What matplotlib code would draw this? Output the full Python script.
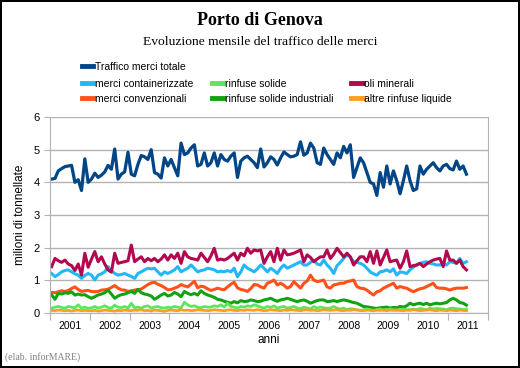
import numpy as np
import matplotlib
matplotlib.use("Agg")
import matplotlib.pyplot as plt

# monthly values, Jan 2001 - Jun 2011 (millions of tonnes)
totale = [
    4.10, 4.12, 4.35, 4.42, 4.48, 4.50, 4.52, 4.00, 4.08, 3.75, 4.72, 4.00,
    4.10, 4.28, 4.15, 4.22, 4.32, 4.52, 4.40, 5.02, 4.10, 4.25, 4.32, 4.92,
    4.25, 4.20, 4.55, 4.82, 4.78, 4.70, 5.00, 4.30, 4.25, 4.13, 4.75, 4.50,
    4.70, 4.45, 4.20, 5.20, 4.85, 4.90, 5.05, 5.15, 4.50, 4.55, 4.90, 4.50,
    4.60, 4.90, 4.50, 4.85, 4.70, 4.65, 4.80, 4.90, 4.15, 4.65, 4.75, 4.80,
    4.70, 4.60, 4.45, 5.02, 4.47, 4.60, 4.78, 4.70, 4.53, 4.75, 4.93, 4.85,
    4.78, 4.80, 4.85, 5.24, 4.83, 4.90, 5.20, 5.05, 4.60, 4.55, 5.05, 4.85,
    4.70, 4.55, 4.90, 4.75, 5.10, 4.90, 5.15, 4.15, 4.45, 4.75, 4.60, 4.30,
    4.00, 3.95, 3.60, 4.30, 3.85, 4.50, 3.95, 4.35, 4.05, 3.65, 4.05, 4.50,
    4.05, 3.75, 3.80, 4.50, 4.25, 4.40, 4.50, 4.60, 4.45, 4.35, 4.50, 4.55,
    4.42, 4.38, 4.65, 4.40, 4.50, 4.25,
]
container = [
    1.21, 1.11, 1.18, 1.26, 1.30, 1.32, 1.26, 1.20, 1.16, 1.06, 1.15, 1.21,
    1.16, 1.01, 1.16, 1.20, 1.26, 1.42, 1.30, 1.21, 1.16, 1.18, 1.21, 1.16,
    1.12, 1.06, 1.21, 1.26, 1.32, 1.37, 1.35, 1.37, 1.26, 1.16, 1.26, 1.21,
    1.26, 1.32, 1.42, 1.26, 1.32, 1.37, 1.47, 1.37, 1.26, 1.30, 1.32, 1.37,
    1.35, 1.32, 1.26, 1.28, 1.26, 1.30, 1.26, 1.37, 1.11, 1.26, 1.47, 1.37,
    1.32, 1.26, 1.35, 1.47, 1.37, 1.26, 1.37, 1.30, 1.21, 1.37, 1.47, 1.37,
    1.42, 1.47, 1.52, 1.57, 1.47, 1.47, 1.55, 1.62, 1.50, 1.47, 1.62, 1.47,
    1.37, 1.21, 1.45, 1.55, 1.67, 1.78, 1.72, 1.57, 1.55, 1.52, 1.47, 1.37,
    1.26, 1.20, 1.16, 1.26, 1.28, 1.32, 1.26, 1.35, 1.16, 1.26, 1.24, 1.21,
    1.32, 1.40, 1.47, 1.52, 1.55, 1.57, 1.52, 1.50, 1.47, 1.47, 1.52, 1.47,
    1.57, 1.55, 1.52, 1.67, 1.52, 1.57,
]
convenzionali = [
    0.63, 0.62, 0.65, 0.68, 0.66, 0.69, 0.75, 0.80, 0.72, 0.66, 0.68, 0.69,
    0.66, 0.65, 0.66, 0.70, 0.71, 0.73, 0.78, 0.84, 0.76, 0.71, 0.70, 0.66,
    0.68, 0.70, 0.72, 0.73, 0.80, 0.87, 0.92, 0.94, 0.88, 0.84, 0.78, 0.71,
    0.72, 0.76, 0.80, 0.87, 0.83, 0.80, 0.88, 0.97, 0.77, 0.82, 0.80, 0.74,
    0.69, 0.72, 0.76, 0.73, 0.71, 0.80, 0.88, 0.94, 0.77, 0.72, 0.70, 0.66,
    0.75, 0.87, 0.86, 0.80, 0.76, 0.91, 0.95, 1.01, 0.86, 0.91, 0.85, 0.76,
    0.81, 0.96, 0.86, 0.76, 0.91, 0.98, 1.16, 1.01, 0.96, 0.98, 1.01, 0.80,
    0.76, 0.86, 0.88, 0.91, 0.91, 0.96, 0.98, 1.01, 0.81, 0.76, 0.75, 0.70,
    0.62, 0.55, 0.65, 0.68, 0.76, 0.81, 0.86, 0.91, 0.76, 0.81, 0.78, 0.76,
    0.70, 0.65, 0.70, 0.74, 0.76, 0.81, 0.86, 0.91, 0.78, 0.76, 0.76, 0.74,
    0.70, 0.74, 0.76, 0.76, 0.76, 0.78,
]
rinfuse_solide = [
    0.15, 0.18, 0.20, 0.17, 0.15, 0.20, 0.18, 0.16, 0.25, 0.15, 0.18, 0.14,
    0.16, 0.20, 0.15, 0.18, 0.22, 0.17, 0.15, 0.24, 0.18, 0.16, 0.20, 0.15,
    0.30, 0.16, 0.18, 0.15, 0.20, 0.22, 0.15, 0.18, 0.20, 0.16, 0.15, 0.18,
    0.16, 0.20, 0.18, 0.15, 0.33, 0.25, 0.20, 0.22, 0.18, 0.16, 0.20, 0.18,
    0.18, 0.22, 0.20, 0.25, 0.18, 0.30, 0.20, 0.18, 0.15, 0.20, 0.18, 0.22,
    0.20, 0.25, 0.22, 0.18, 0.15, 0.20, 0.17, 0.22, 0.15, 0.18, 0.20, 0.15,
    0.17, 0.20, 0.15, 0.13, 0.18, 0.15, 0.12, 0.20, 0.15, 0.18, 0.16, 0.14,
    0.15, 0.20, 0.15, 0.12, 0.15, 0.10, 0.13, 0.12, 0.10, 0.08, 0.10, 0.12,
    0.10, 0.08, 0.10, 0.12, 0.08, 0.10, 0.12, 0.10, 0.08, 0.10, 0.12, 0.10,
    0.10, 0.12, 0.10, 0.14, 0.12, 0.10, 0.15, 0.12, 0.14, 0.13, 0.12, 0.10,
    0.14, 0.15, 0.13, 0.12, 0.10, 0.12,
]
industriali = [
    0.55, 0.42, 0.60, 0.58, 0.62, 0.60, 0.65, 0.55, 0.58, 0.55, 0.56, 0.50,
    0.45, 0.50, 0.55, 0.58, 0.62, 0.70, 0.58, 0.45, 0.52, 0.56, 0.58, 0.62,
    0.66, 0.60, 0.72, 0.62, 0.58, 0.56, 0.52, 0.42, 0.48, 0.55, 0.60, 0.52,
    0.55, 0.63, 0.58, 0.50, 0.66, 0.60, 0.56, 0.60, 0.55, 0.68, 0.60, 0.55,
    0.52, 0.48, 0.42, 0.40, 0.36, 0.33, 0.30, 0.35, 0.31, 0.38, 0.35, 0.36,
    0.40, 0.38, 0.35, 0.36, 0.40, 0.42, 0.45, 0.40, 0.36, 0.40, 0.42, 0.45,
    0.42, 0.38, 0.35, 0.38, 0.40, 0.36, 0.30, 0.34, 0.38, 0.40, 0.40, 0.35,
    0.36, 0.38, 0.35, 0.38, 0.40, 0.38, 0.35, 0.32, 0.30, 0.25, 0.20, 0.19,
    0.17, 0.15, 0.14, 0.16, 0.17, 0.18, 0.15, 0.17, 0.16, 0.20, 0.18, 0.22,
    0.30, 0.25, 0.28, 0.30, 0.26, 0.30, 0.25, 0.28, 0.30, 0.28, 0.30, 0.32,
    0.40, 0.45, 0.40, 0.32, 0.30, 0.24,
]
oli_minerali = [
    1.42, 1.67, 1.60, 1.55, 1.62, 1.50, 1.45, 1.30, 1.50, 1.16, 1.83, 1.40,
    1.65, 1.88, 1.57, 1.72, 1.50, 1.32, 1.25, 1.83, 1.52, 1.55, 1.57, 1.60,
    2.08, 1.57, 1.65, 1.72, 1.57, 1.67, 1.60, 1.67, 1.57, 1.65, 1.78, 1.62,
    1.78, 1.67, 1.83, 1.52, 1.88, 1.72, 1.67, 1.65, 1.62, 1.83, 1.70, 1.57,
    1.75, 1.98, 1.62, 1.65, 1.62, 1.67, 1.75, 1.83, 1.62, 1.83, 1.75, 1.98,
    1.83, 1.93, 1.90, 1.93, 1.52, 1.72, 1.88, 1.57, 1.98, 1.62, 1.93, 1.78,
    1.80, 1.83, 1.88, 1.93, 1.57, 1.78, 1.70, 1.57, 1.65, 1.72, 1.72, 1.93,
    1.67, 1.80, 1.98, 1.85, 1.72, 1.83, 1.72, 1.47, 1.60, 1.72, 1.72, 1.57,
    1.88, 1.52, 1.90, 1.47, 1.70, 1.93, 1.57, 1.60, 1.62, 1.37, 1.57, 1.90,
    1.42, 1.45, 1.47, 1.52, 1.42, 1.50, 1.57, 1.62, 1.65, 1.67, 1.42, 1.90,
    1.62, 1.62, 1.52, 1.62, 1.42, 1.32,
]
altre_liquide = [
    0.08, 0.07, 0.09, 0.08, 0.07, 0.08, 0.06, 0.08, 0.09, 0.07, 0.08, 0.07,
    0.07, 0.08, 0.06, 0.07, 0.09, 0.08, 0.07, 0.06, 0.08, 0.07, 0.09, 0.08,
    0.07, 0.09, 0.08, 0.10, 0.07, 0.08, 0.06, 0.09, 0.08, 0.07, 0.05, 0.08,
    0.09, 0.08, 0.07, 0.10, 0.08, 0.09, 0.07, 0.08, 0.10, 0.09, 0.08, 0.07,
    0.08, 0.10, 0.09, 0.08, 0.07, 0.09, 0.10, 0.08, 0.07, 0.09, 0.08, 0.10,
    0.09, 0.08, 0.10, 0.09, 0.07, 0.08, 0.10, 0.09, 0.08, 0.07, 0.09, 0.08,
    0.10, 0.09, 0.08, 0.07, 0.09, 0.10, 0.08, 0.09, 0.07, 0.08, 0.10, 0.09,
    0.08, 0.09, 0.10, 0.08, 0.07, 0.09, 0.08, 0.10, 0.09, 0.08, 0.07, 0.09,
    0.08, 0.07, 0.09, 0.08, 0.10, 0.07, 0.09, 0.08, 0.10, 0.08, 0.07, 0.09,
    0.08, 0.10, 0.09, 0.07, 0.08, 0.09, 0.10, 0.08, 0.07, 0.09, 0.08, 0.07,
    0.09, 0.08, 0.07, 0.09, 0.08, 0.07,
]
anni = [str(y) for y in range(2001, 2012)]

plt.rcParams['font.family'] = ['Liberation Sans', 'DejaVu Sans']

fig = plt.figure(figsize=(5.2, 3.68), dpi=100, facecolor='white',
                 edgecolor='black', linewidth=1.5)
ax = fig.add_axes([50 / 520, 1 - 313 / 368, 438 / 520, 196 / 368])

x = np.arange(len(totale)) + 0.5
h_tot, = ax.plot(x, totale, color='#004586', lw=2.3, label='Traffico merci totale')
h_cont, = ax.plot(x, container, color='#22b8f8', lw=2.2, label='merci containerizzate')
h_conv, = ax.plot(x, convenzionali, color='#ff5119', lw=2.2, label='merci convenzionali')
h_ind, = ax.plot(x, industriali, color='#12a312', lw=2.2, label='rinfuse solide industriali')
h_sol, = ax.plot(x, rinfuse_solide, color='#5ce65c', lw=2.0, label='rinfuse solide')
h_liq, = ax.plot(x, altre_liquide, color='#ff9e1f', lw=2.0, label='altre rinfuse liquide')
h_oli, = ax.plot(x, oli_minerali, color='#b3074f', lw=2.2, label='oli minerali')

ax.set_xlim(0, 12 * len(anni))
ax.set_ylim(0, 6)
ax.set_xticks(np.arange(0, 12 * len(anni) + 1, 12))
ax.set_xticklabels([])
ax.set_xticks(np.arange(6, 12 * len(anni), 12), minor=True)
ax.set_xticklabels(anni, minor=True)
ax.tick_params(axis='x', which='minor', length=0, labelsize=7.5, pad=6)
ax.tick_params(axis='x', which='major', length=5, color='#b3b3b3')
ax.tick_params(axis='y', length=4, color='#b3b3b3', labelsize=8)
ax.set_yticks(range(0, 7))
ax.grid(axis='y', color='#b3b3b3', lw=1)
for s in ax.spines.values():
    s.set_color('#b3b3b3')
ax.spines['top'].set_visible(False)
ax.set_axisbelow(True)
ax.set_ylabel('milioni di tonnellate', fontsize=8.5, labelpad=5)
ax.set_xlabel('anni', fontsize=8.5, labelpad=2)

fig.text(0.5, 0.945, 'Porto di Genova', ha='center', va='center',
         family='Liberation Serif', weight='bold', fontsize=13)
fig.text(0.5, 0.885, 'Evoluzione mensile del traffico delle merci', ha='center',
         va='center', family='Liberation Serif', fontsize=9.7)
fig.text(0.01, 0.03, '(elab. inforMARE)', ha='left', va='center',
         family='Liberation Serif', fontsize=7, color='#808080')

leg_kw = dict(frameon=False, fontsize=7.5, handlelength=1.1, handletextpad=0.15,
              borderpad=0, borderaxespad=0, labelspacing=0.45)
l1 = fig.legend(handles=[h_tot], loc='upper left', bbox_to_anchor=(82 / 520, 1 - 62 / 368), **leg_kw)
for ln in l1.get_lines():
    ln.set_linewidth(3.5)
l2 = fig.legend(handles=[h_cont, h_conv, h_sol, h_ind, h_oli, h_liq], ncol=3,
                loc='upper left', bbox_to_anchor=(82 / 520, 1 - 79 / 368),
                columnspacing=1.75, **leg_kw)
for ln in l2.get_lines():
    ln.set_linewidth(3.5)

fig.savefig('out.png', dpi=100, facecolor='white', edgecolor=fig.get_edgecolor())
